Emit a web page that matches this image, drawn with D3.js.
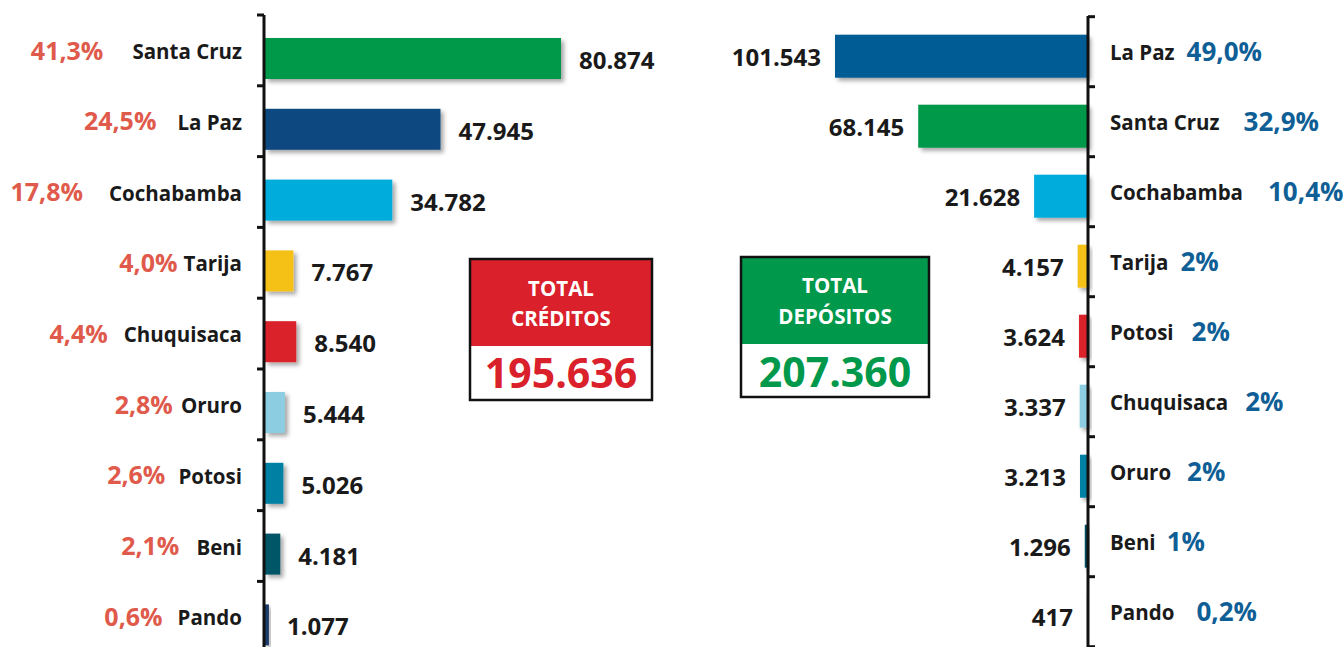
<!DOCTYPE html>
<html>
<head>
<meta charset="utf-8">
<script src="https://cdn.jsdelivr.net/npm/d3@7"></script>
<style>
  html, body { margin: 0; padding: 0; background: #fff; }
  svg { display: block; font-family: "Open Sans", sans-serif; }
</style>
</head>
<body>
<div id="chart"></div>
<script>
// créditos (left) and depósitos (right), by departamento
var credCats = ["Santa Cruz", "La Paz", "Cochabamba", "Tarija", "Chuquisaca", "Oruro", "Potosi", "Beni", "Pando"];
var credVals = [80874, 47945, 34782, 7767, 8540, 5444, 5026, 4181, 1077];
var credPct = ["41,3%", "24,5%", "17,8%", "4,0%", "4,4%", "2,8%", "2,6%", "2,1%", "0,6%"];
var credLabels = ["80.874", "47.945", "34.782", "7.767", "8.540", "5.444", "5.026", "4.181", "1.077"];

var depCats = ["La Paz", "Santa Cruz", "Cochabamba", "Tarija", "Potosi", "Chuquisaca", "Oruro", "Beni", "Pando"];
var depVals = [101543, 68145, 21628, 4157, 3624, 3337, 3213, 1296, 417];
var depPct = ["49,0%", "32,9%", "10,4%", "2%", "2%", "2%", "2%", "1%", "0,2%"];
var depLabels = ["101.543", "68.145", "21.628", "4.157", "3.624", "3.337", "3.213", "1.296", "417"];

var totalCred = "195.636";
var totalDep = "207.360";

// colours per departamento (each side has its own palette)
var credColors = ["#00984a", "#0b4a80", "#00acdc", "#f5c118", "#da2129", "#8dcde2", "#0080a2", "#005566", "#1c3c6c"];
var depColors = ["#005b94", "#00984a", "#00acdc", "#f5c118", "#da2129", "#8dcde2", "#0080a2", "#004f5e", "#0c3c54"];
// space between percent and name, as laid out in the original
var credGap = [29, 21, 26, 6, 16, 8, 13, 17, 15];
var depGap = [12, 24, 25, 12, 18, 17, 16, 11, 22];

var W = 1343, H = 647;
var svg = d3.select("#chart").append("svg").attr("width", W).attr("height", H);

var defs = svg.append("defs");
defs.append("filter").attr("id", "shadow")
    .attr("x", "-20%").attr("y", "-20%").attr("width", "160%").attr("height", "160%")
    .append("feDropShadow")
    .attr("dx", 3).attr("dy", 3).attr("stdDeviation", 2)
    .attr("flood-color", "#000").attr("flood-opacity", 0.35);

// ---------- left: créditos ----------
var axL = 265;
var yL = d3.scaleBand().domain(credCats).range([15, 15 + 9 * 70.8]);
var xL = d3.scaleLinear().domain([0, 80874]).range([0, 296]);

var gL = svg.append("g");
gL.selectAll("rect.bar")
    .data(credCats)
    .join("rect")
    .attr("class", "bar")
    .attr("x", axL)
    .attr("y", d => yL(d) + 23)
    .attr("width", (d, i) => xL(credVals[i]))
    .attr("height", 41)
    .attr("fill", (d, i) => credColors[i])
    .attr("filter", "url(#shadow)");

gL.selectAll("text.val")
    .data(credCats)
    .join("text")
    .attr("class", "val")
    .attr("x", (d, i) => axL + xL(credVals[i]) + 18)
    .attr("y", d => yL(d) + 23 + 20.5 + 10.5)
    .attr("font-size", 24).attr("font-weight", 700).attr("fill", "#1a1a1a")
    .text((d, i) => credLabels[i]);

var namesL = gL.selectAll("text.name")
    .data(credCats)
    .join("text")
    .attr("class", "name")
    .attr("x", 242)
    .attr("y", d => yL(d) + 23 + 20.5 + 0.5)
    .attr("text-anchor", "end")
    .attr("font-size", 20.5).attr("font-weight", 700).attr("fill", "#1a1a1a")
    .text(d => d);

var wL = namesL.nodes().map(n => n.getComputedTextLength());
gL.selectAll("text.pct")
    .data(credCats)
    .join("text")
    .attr("class", "pct")
    .attr("x", (d, i) => 242 - wL[i] - credGap[i])
    .attr("y", d => yL(d) + 23 + 20.5 + 1)
    .attr("text-anchor", "end")
    .attr("font-size", 25).attr("font-weight", 700).attr("fill", "#e05a4b")
    .text((d, i) => credPct[i]);

// axis line with ticks at band edges
var edgesL = d3.range(10).map(k => 15 + k * yL.step());
gL.append("line").attr("x1", axL - 1).attr("x2", axL - 1).attr("y1", 15).attr("y2", H)
    .attr("stroke", "#111").attr("stroke-width", 3);
gL.selectAll("line.tick").data(edgesL).join("line").attr("class", "tick")
    .attr("x1", axL - 8).attr("x2", axL - 1).attr("y1", d => d).attr("y2", d => d)
    .attr("stroke", "#111").attr("stroke-width", 3);

// ---------- right: depósitos ----------
var axR = 1088;
var yR = d3.scaleBand().domain(depCats).range([16.7, 16.7 + 9 * 70]);
var xR = d3.scaleLinear().domain([0, 101543]).range([0, 253]);

var gR = svg.append("g");
gR.selectAll("rect.bar")
    .data(depCats)
    .join("rect")
    .attr("class", "bar")
    .attr("x", (d, i) => axR - xR(depVals[i]))
    .attr("y", d => yR(d) + 18)
    .attr("width", (d, i) => xR(depVals[i]))
    .attr("height", 43)
    .attr("fill", (d, i) => depColors[i])
    .attr("filter", "url(#shadow)");

gR.selectAll("text.val")
    .data(depCats)
    .join("text")
    .attr("class", "val")
    .attr("x", (d, i) => axR - xR(depVals[i]) - 14)
    .attr("y", d => yR(d) + 18 + 21.5 + 10)
    .attr("text-anchor", "end")
    .attr("font-size", 24).attr("font-weight", 700).attr("fill", "#1a1a1a")
    .text((d, i) => depLabels[i]);

var namesR = gR.selectAll("text.name")
    .data(depCats)
    .join("text")
    .attr("class", "name")
    .attr("x", 1110)
    .attr("y", d => yR(d) + 18 + 21.5 + 4)
    .attr("font-size", 20.5).attr("font-weight", 700).attr("fill", "#1a1a1a")
    .text(d => d);

var wR = namesR.nodes().map(n => n.getComputedTextLength());
gR.selectAll("text.pct")
    .data(depCats)
    .join("text")
    .attr("class", "pct")
    .attr("x", (d, i) => 1110 + wR[i] + depGap[i])
    .attr("y", d => yR(d) + 18 + 21.5 + 4.5)
    .attr("font-size", 26).attr("font-weight", 700).attr("fill", "#0f5f96")
    .text((d, i) => depPct[i]);

var edgesR = d3.range(10).map(k => 16.7 + k * yR.step());
gR.append("line").attr("x1", axR).attr("x2", axR).attr("y1", 16).attr("y2", H)
    .attr("stroke", "#111").attr("stroke-width", 3);
gR.selectAll("line.tick").data(edgesR).join("line").attr("class", "tick")
    .attr("x1", axR).attr("x2", axR + 7).attr("y1", d => d).attr("y2", d => d)
    .attr("stroke", "#111").attr("stroke-width", 3);

// ---------- total boxes ----------
function totalBox(x, y, w, h, split, color, title, value, lineY, valY) {
    var g = svg.append("g");
    g.append("rect").attr("x", x).attr("y", y).attr("width", w).attr("height", split - y).attr("fill", color);
    g.append("rect").attr("x", x).attr("y", y).attr("width", w).attr("height", h)
        .attr("fill", "none").attr("stroke", "#111").attr("stroke-width", 2.5);
    g.selectAll("text.t").data(title).join("text").attr("class", "t")
        .attr("x", x + w / 2).attr("y", (d, i) => lineY[i])
        .attr("text-anchor", "middle").attr("font-size", 20.5).attr("font-weight", 700).attr("fill", "#fff")
        .text(d => d);
    g.append("text").attr("x", x + w / 2).attr("y", valY)
        .attr("text-anchor", "middle").attr("font-size", 41).attr("font-weight", 700).attr("fill", color)
        .text(value);
}
totalBox(470, 259, 182, 141, 346, "#da202a", ["TOTAL", "CRÉDITOS"], totalCred, [296, 326], 388);
totalBox(741, 257, 188, 140, 344, "#00984a", ["TOTAL", "DEPÓSITOS"], totalDep, [293, 324], 387);
</script>
</body>
</html>
